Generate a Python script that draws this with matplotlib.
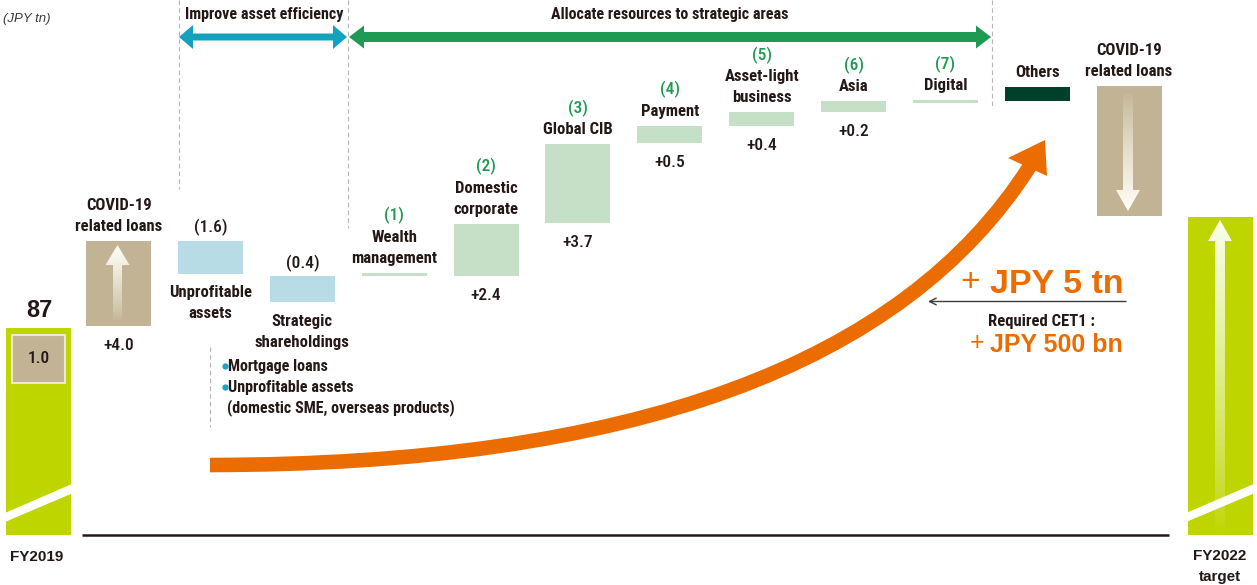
import numpy as np
import matplotlib.pyplot as plt
from matplotlib import font_manager as fm
from matplotlib.patches import Polygon, PathPatch
from matplotlib.path import Path

W, H = 1257, 585

# ---- data (JPY tn) ----
fy2019_total = 87
fy2019_covid = '1.0'
fy2022_top = 92.2
step_names = ['COVID-19\nrelated loans', 'Unprofitable\nassets', 'Strategic\nshareholdings',
              'Wealth\nmanagement', 'Domestic\ncorporate', 'Global CIB', 'Payment',
              'Asset-light\nbusiness', 'Asia', 'Digital', 'Others', 'COVID-19\nrelated loans']
step_numbers = ['', '', '', '(1)', '(2)', '(3)', '(4)', '(5)', '(6)', '(7)', '', '']
step_values = ['+4.0', '(1.6)', '(0.4)', '', '+2.4', '+3.7', '+0.5', '+0.4', '+0.2', '', '', '']
step_group = ['covid', 'efficiency', 'efficiency', 'strategic', 'strategic', 'strategic',
              'strategic', 'strategic', 'strategic', 'strategic', 'others', 'covid']
bar_start = [87.1, 91.1, 89.45, 89.45, 89.45, 91.95, 95.7, 96.5, 97.15, 97.55, 97.65, 98.35]
bar_end = [91.1, 89.55, 88.2, 89.6, 91.9, 95.65, 96.5, 97.15, 97.65, 97.7, 98.3, 92.25]

# ---- fonts: pick a condensed face if one is installed ----
fonts = fm.fontManager.ttflist
names = {f.name for f in fonts}
NARROW = dict(family=['Liberation Sans', 'DejaVu Sans'])
for cand in ['Liberation Sans Narrow', 'Roboto Condensed', 'Noto Sans Condensed',
             'DejaVu Sans Condensed', 'Open Sans Condensed']:
    if cand in names:
        NARROW = dict(family=[cand, 'DejaVu Sans'])
        break
else:
    for fam in ['Noto Sans', 'DejaVu Sans', 'Open Sans', 'Roboto']:
        if any(f.name == fam and f.stretch in ('condensed', 'semi-condensed', 600, 700)
               or (f.name == fam and 'ondensed' in f.fname) for f in fonts):
            NARROW = dict(family=[fam, 'DejaVu Sans'], fontstretch='condensed')
            break
WIDE = dict(family=['Liberation Sans', 'DejaVu Sans'])

TXT = '#231815'
GREEN_NUM = '#1f9a52'
ORANGE = '#eb6c00'
LIME = '#bed500'
group_color = {'covid': '#c2b394', 'efficiency': '#b7dce5',
               'strategic': '#c6e0c8', 'others': '#00402a'}

fig = plt.figure(figsize=(W / 100, H / 100), dpi=100)
ax = fig.add_axes([0, 0, 1, 1])
ax.set_xlim(-0.2923, 13.393)
ax.set_ylim(74.934, 102.399)
ax.axis('off')
base = 77.28

# start / end bars
ax.bar([0.132, 13], [fy2019_total - base, fy2022_top - base], bottom=base,
       width=0.708, color=LIME, linewidth=0)
ax.bar(0.132, 2.25, bottom=fy2019_total - 2.58, width=0.577, color='#c2b394',
       edgecolor='#ece6d8', linewidth=1.5)
ax.text(0.132, fy2019_total - 1.45, fy2019_covid, ha='center', va='center',
        fontsize=12.5, fontweight='medium', color=TXT, **NARROW)
ax.annotate(str(fy2019_total), (0.132, fy2019_total), xytext=(0, 11),
            textcoords='offset pixels', ha='center', va='baseline',
            fontsize=17, fontweight='bold', color=TXT, **WIDE)

# step bars
xs = np.arange(1, len(step_names) + 1)
lows = np.minimum(bar_start, bar_end)
highs = np.maximum(bar_start, bar_end)
ax.bar(xs, highs - lows, bottom=lows, width=0.708,
       color=[group_color[g] for g in step_group], linewidth=0)


def put(x, y, s, dy, **kw):
    kw.setdefault('fontsize', 12)
    kw.setdefault('color', TXT)
    kw.setdefault('fontweight', 'medium')
    for k, v in NARROW.items():
        kw.setdefault(k, v)
    ax.annotate(s, (x, y), xytext=(0, dy), textcoords='offset pixels',
                ha='center', va='baseline', **kw)


for x, lo, hi, name, num, val, grp in zip(xs, lows, highs, step_names,
                                          step_numbers, step_values, step_group):
    lines = name.split('\n')
    if grp == 'efficiency':
        for j, ln in enumerate(lines):
            put(x, lo, ln, -23.5 - 21 * j, fontweight='bold')
        if val:
            put(x, hi, val, 8, fontsize=12.5)
    else:
        for j, ln in enumerate(reversed(lines)):
            put(x, hi, ln, 10 + 21 * j, fontweight='bold')
        if num:
            put(x, hi, num, 10 + 21 * len(lines), color=GREEN_NUM, fontsize=12.5)
        if val:
            put(x, lo, val, -24, fontsize=12.5)

# ---- overlay in pixel space for decorations ----
lay = fig.add_axes([0, 0, 1, 1])
lay.patch.set_visible(False)
lay.axis('off')


def double_arrow(x0, x1, y, shaft, head_w, head_l, color):
    pts = [(x0, y), (x0 + head_l, y - head_w / 2), (x0 + head_l, y - shaft / 2),
           (x1 - head_l, y - shaft / 2), (x1 - head_l, y - head_w / 2), (x1, y),
           (x1 - head_l, y + head_w / 2), (x1 - head_l, y + shaft / 2),
           (x0 + head_l, y + shaft / 2), (x0 + head_l, y + head_w / 2)]
    lay.add_patch(Polygon(pts, closed=True, color=color, lw=0))


def glow_arrow(x, y_tip, y_tail, head_w, head_l, shaft_w, tint):
    s = 1 if y_tail > y_tip else -1
    yh = y_tip + s * head_l
    pts = [(x, y_tip), (x + head_w / 2, yh), (x + shaft_w / 2, yh), (x + shaft_w / 2, y_tail),
           (x - shaft_w / 2, y_tail), (x - shaft_w / 2, yh), (x - head_w / 2, yh)]
    poly = Polygon(pts, closed=True, facecolor='none', edgecolor='none')
    lay.add_patch(poly)
    img = np.ones((256, 1, 4))
    img[..., :3] = tint
    img[:, 0, 3] = np.linspace(1, 0, 256) ** 0.8
    im = lay.imshow(img, extent=(x - head_w / 2, x + head_w / 2, y_tail, y_tip),
                    origin='upper', aspect='auto', interpolation='bilinear', zorder=3)
    im.set_clip_path(poly)


def label(x, y, s, **kw):
    kw.setdefault('color', TXT)
    kw.setdefault('ha', 'center')
    kw.setdefault('va', 'center')
    lay.text(x, y, s, **kw)


# section arrows and dashed separators
double_arrow(179, 347, 37, 7, 24, 14, '#12a2c0')
double_arrow(349, 991, 37, 10, 23, 15, '#1f9a55')
for x, y0, y1 in [(179, 0, 189), (348, 0, 228), (992, 0, 106), (210, 347, 427)]:
    lay.plot([x, x], [y0, y1], color='#b5b5b6', lw=0.8, ls=(0, (4, 3)))

label(264, 15, 'Improve asset efficiency', fontsize=11.5, fontweight='bold', **NARROW)
label(670, 15, 'Allocate resources to strategic areas', fontsize=11.5,
      fontweight='bold', **NARROW)
label(3, 19, '(JPY tn)', ha='left', fontsize=9.5, style='italic', color='#3e3a39', **WIDE)

# axis line and bar breaks
lay.plot([82, 1169], [535, 535], color=TXT, lw=1.8, solid_capstyle='butt')
for x0, x1 in [(5, 73), (1186, 1255)]:
    lay.add_patch(Polygon([(x0, 513), (x1, 483.5), (x1, 493), (x0, 522)],
                          closed=True, color='white', lw=0, zorder=2))

# glowing arrows in the covid / target bars
glow_arrow(117.5, 245, 322, 24, 20, 9, (1.0, 1.0, 0.97))
glow_arrow(1128, 211, 92, 24, 21, 10, (1.0, 1.0, 0.97))
glow_arrow(1220, 220, 534, 24, 21, 10, (0.98, 1.0, 0.92))

# bullet notes
for y, s in [(371, 'Mortgage loans'), (392, 'Unprofitable assets')]:
    lay.plot(224.5, y - 5, 'o', ms=4.5, color='#1aa3c2', mec='none')
    label(228.5, y, s, ha='left', va='baseline', fontsize=11.5, fontweight='bold', **NARROW)
label(227, 412, '(domestic SME, overseas products)', ha='left', va='baseline',
      fontsize=11.5, fontweight='bold', **NARROW)

# big orange curve
curve = Path([(210, 465), (840, 465), (1030, 166)],
             [Path.MOVETO, Path.CURVE3, Path.CURVE3])
lay.add_patch(PathPatch(curve, fill=False, edgecolor=ORANGE, lw=10.5, capstyle='butt'))
lay.add_patch(Polygon([(1045, 140), (1008, 158), (1047, 176)], closed=True,
                      color=ORANGE, lw=0))

# capital call-out
label(980, 283, '+', ha='right', fontsize=24, color=ORANGE, **WIDE)
label(990, 293, 'JPY 5 tn', ha='left', va='baseline', fontsize=24.5,
      fontweight='bold', color=ORANGE, **WIDE)
lay.annotate('', xy=(928, 301.5), xytext=(1126, 301.5),
             arrowprops=dict(arrowstyle='->', color='#3e3a39', lw=1,
                             shrinkA=0, shrinkB=0, mutation_scale=12))
label(1042, 326, 'Required CET1 :', va='baseline', fontsize=12, fontweight='bold', **NARROW)
label(984, 343, '+', ha='right', fontsize=18, color=ORANGE, **WIDE)
label(990, 352, 'JPY 500 bn', ha='left', va='baseline', fontsize=18,
      fontweight='bold', color=ORANGE, **WIDE)

# period labels
label(37, 557, 'FY2019', fontsize=11, fontweight='bold', **WIDE)
label(1220, 556, 'FY2022', fontsize=11, fontweight='bold', **WIDE)
label(1220, 577, 'target', fontsize=11, fontweight='bold', **WIDE)

lay.set_xlim(0, W)
lay.set_ylim(H, 0)

fig.savefig('out.png', dpi=100)
